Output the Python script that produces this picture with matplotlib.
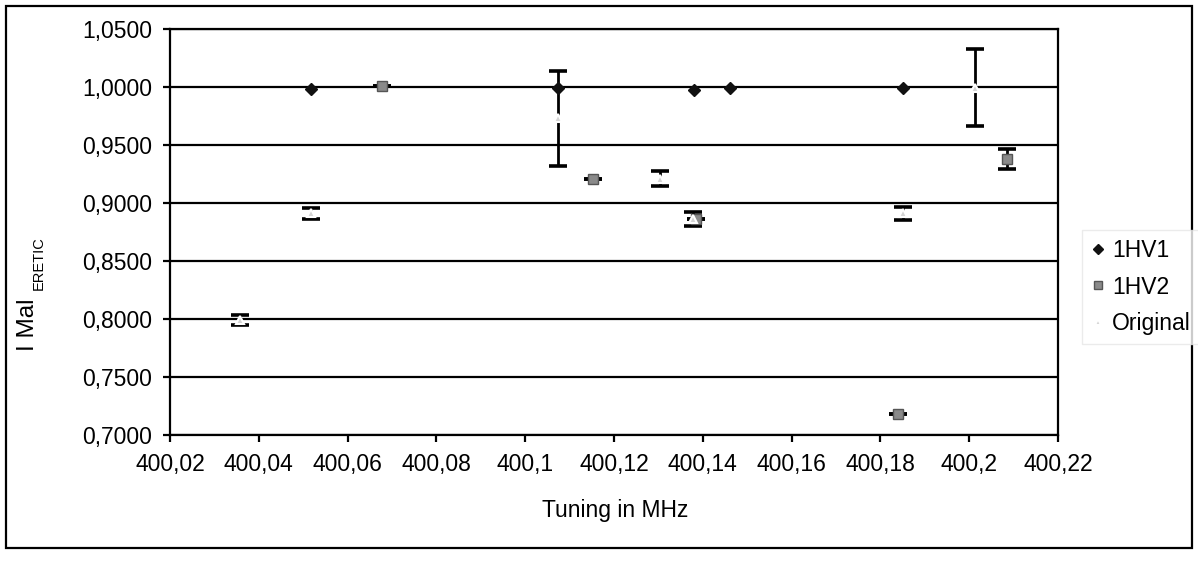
import matplotlib
matplotlib.use('agg')
import matplotlib.pyplot as plt
from matplotlib.patches import Rectangle
from matplotlib.ticker import FuncFormatter, MultipleLocator

plt.rcParams['font.family'] = ['Liberation Sans', 'DejaVu Sans']

# values
hv1_x = [400.0518, 400.1074, 400.1381, 400.1461, 400.1852]
hv1_y = [0.998, 0.999, 0.997, 0.999, 0.9995]

hv2_x = [400.0678, 400.1153, 400.1385, 400.1840, 400.2086]
hv2_y = [1.001, 0.921, 0.886, 0.718, 0.9377]
hv2_err = [0.0, 0.0, 0.0, 0.0, 0.0088]

orig_x = [400.0358, 400.0517, 400.1074, 400.1303, 400.1378, 400.1852, 400.2013]
orig_y = [0.799, 0.891, 0.973, 0.921, 0.886, 0.891, 0.9995]
orig_err = [0.0045, 0.0047, 0.041, 0.0067, 0.0062, 0.0058, 0.0331]

W, H = 1198, 562
fig = plt.figure(figsize=(W / 100, H / 100), dpi=100)
ax = fig.add_axes([170 / W, 1 - 435 / H, (1058 - 170) / W, (435 - 29) / H])

fs = 16.5
ek = dict(fmt='none', ecolor='black', elinewidth=2, capsize=6.5, capthick=2.6, zorder=3)
ax.errorbar(orig_x, orig_y, yerr=orig_err, **ek)
ax.errorbar(hv2_x, hv2_y, yerr=hv2_err, **ek)

ax.plot(hv1_x, hv1_y, ls='none', marker='D', ms=6.5, color='#111111', zorder=4, label='1HV1')
ax.plot(hv2_x, hv2_y, ls='none', marker='s', ms=6.5, color='#8a8a8a', mec='#555555', zorder=4, label='1HV2')
ax.plot(orig_x, orig_y, ls='none', marker='^', ms=6, color='#d4d4d4', mec='white', mew=1.5, zorder=5, label='Original')

ax.set_xlim(400.02, 400.22)
ax.set_ylim(0.70, 1.05)
ax.xaxis.set_major_locator(MultipleLocator(0.02))
ax.yaxis.set_major_locator(MultipleLocator(0.05))
ax.xaxis.set_major_formatter(FuncFormatter(lambda v, p: f"{v:.2f}".rstrip('0').rstrip('.').replace('.', ',')))
ax.yaxis.set_major_formatter(FuncFormatter(lambda v, p: f"{v:.4f}".replace('.', ',')))
ax.grid(axis='y', color='black', lw=1.6)
ax.set_axisbelow(True)
for s in ax.spines.values():
    s.set_color('black')
    s.set_linewidth(1.6)
ax.tick_params(direction='out', length=5, width=1.6, labelsize=fs, pad=8, colors='black')

fig.text(615 / W, 1 - 510 / H, 'Tuning in MHz', ha='center', va='center', fontsize=fs)
# y label: "I Mal" with a small subscript "ERETIC"
fig.text(28 / W, 1 - 325 / H, 'I Mal', ha='center', va='center', rotation=90, fontsize=17.5)
fig.text(39 / W, 1 - 263 / H, 'ERETIC', ha='center', va='center', rotation=90, fontsize=10.5)

leg = fig.legend(loc='center left', bbox_to_anchor=(1082 / W, 1 - 287 / H), fontsize=fs,
                 frameon=True, fancybox=False, handlelength=0.6, handletextpad=0.3,
                 labelspacing=0.6, borderaxespad=0, borderpad=0.4, markerscale=0.8)
leg.get_frame().set_edgecolor('#e6e6e6')
leg.get_frame().set_linewidth(1)

fig.patches.append(Rectangle((6 / W, 1 - 548 / H), (1192 - 6) / W, (548 - 6) / H,
                             transform=fig.transFigure, fill=False, ec='black', lw=1.6))

fig.savefig('out.png', dpi=100)
